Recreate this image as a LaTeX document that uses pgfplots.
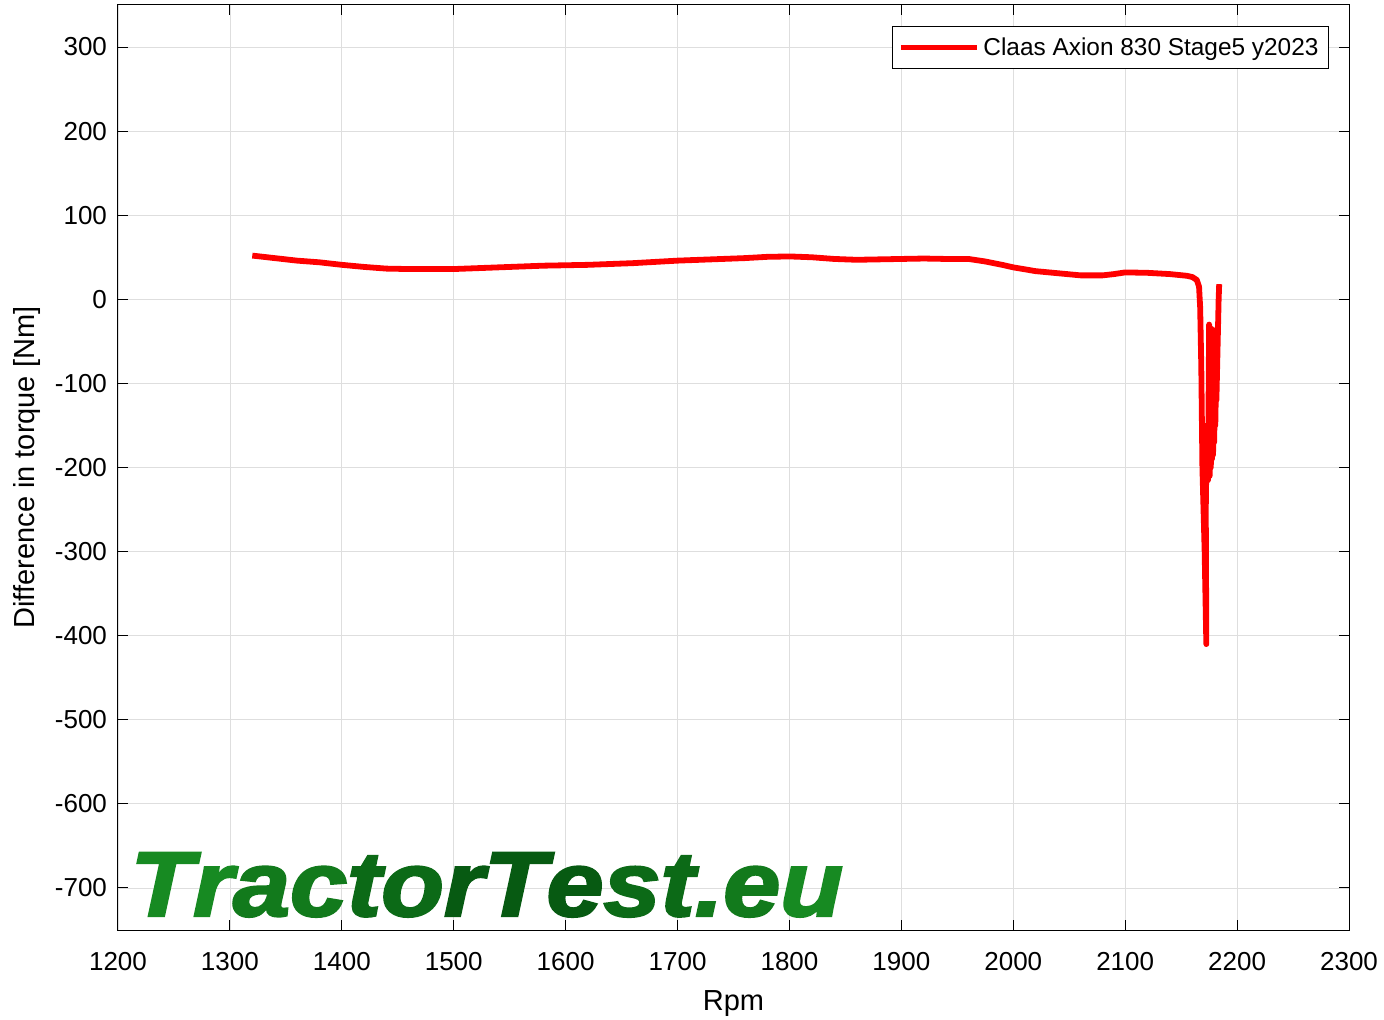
\documentclass[border=0pt]{standalone}
\usepackage{pgfplots}
\pgfplotsset{compat=1.18}
\usepackage{fontspec}
\setmainfont{Liberation Sans}
\newfontfamily\logofont{Liberation Sans Bold Italic}[RawFeature={embolden=2.5}]
\usetikzlibrary{calc}
\definecolor{g1}{HTML}{178A22}
\definecolor{g2}{HTML}{127A1C}
\definecolor{g3}{HTML}{0C6A17}
\definecolor{g4}{HTML}{075A12}
\begin{document}
\begin{tikzpicture}[x=1pt,y=1pt]
\begin{axis}[
  name=ax,
  scale only axis,
  width=615.5pt, height=462.5pt,
  xmin=1200, xmax=2300, ymin=-750, ymax=350,
  xtick={1200,1300,...,2300},
  ytick={-700,-600,...,300},
  /pgf/number format/assume math mode=true,
  /pgf/number format/set thousands separator={},
  tick label style={font=\fontsize{13}{15}\selectfont, /pgf/number format/1000 sep={}},
  xticklabel style={yshift=-7.5pt},
  yticklabel style={xshift=-2pt},
  label style={font=\fontsize{14.5}{16}\selectfont},
  xlabel={Rpm},
  ylabel={Difference in torque [Nm]},
  xlabel style={yshift=-3pt},
  ylabel style={yshift=0.5pt},
  grid=major,
  major grid style={draw=black!13, line width=0.4pt},
  tick align=inside,
  major tick length=5pt,
  tick style={black, line width=0.5pt},
  axis line style={black, line width=0.5pt},
  legend style={at={(rel axis cs:1,1)}, anchor=north east, xshift=-10pt, yshift=-10.75pt,
    font=\fontsize{12.2}{14}\selectfont, draw=black, line width=0.5pt, inner xsep=3pt, inner ysep=3.25pt},
  legend cell align=left,
  legend image code/.code={\draw[#1, line width=2.5pt] (0pt,0pt) -- (38pt,0pt);},
]
\addplot[red, line width=2.9pt, line join=round] coordinates {
(1320,52) (1340,49) (1360,46) (1380,44) (1400,41) (1420,38.5) (1440,36.5) (1460,36) (1480,36)
(1500,36) (1520,37) (1540,38) (1560,39) (1580,40) (1600,40.5) (1620,41) (1640,42) (1660,43)
(1680,44.5) (1700,46) (1720,47) (1740,48) (1760,49) (1780,50.5) (1800,51) (1820,50) (1840,48)
(1860,47) (1880,47.5) (1900,48) (1920,48.5) (1940,48) (1960,48) (1975,45) (1990,41) (2000,38)
(2020,33.5) (2040,31) (2060,28.5) (2080,28.5) (2090,30) (2100,32) (2120,31.5) (2140,30)
(2155,28) (2160,26.5) (2164,23) (2166,15) (2167,-10) (2168,-80) (2169,-200) (2171,-300)
(2172.5,-410) (2172,-250) (2173,-150) (2174,-215) (2175,-30) (2174.5,-200) (2176,-40)
(2175.5,-210) (2177,-35) (2176.5,-200) (2178,-45) (2177.5,-190) (2179,-40) (2178.5,-185)
(2180,-50) (2179.5,-170) (2181,-40) (2180.5,-150) (2182,-35) (2181.5,-120) (2183,-30)
(2183.5,0) (2184,18)
};
\addlegendentry{Claas Axion 830 Stage5 y2023}
\end{axis}
\node[anchor=base west, inner sep=0pt, xscale=1.115, font=\fontsize{46}{50}\selectfont\logofont]
  at ($(ax.south west)+(6pt,7pt)$)
  {\textcolor{g1}{T}\textcolor{g1}{r}\textcolor{g2}{a}\textcolor{g2}{c}\textcolor{g3}{t}\textcolor{g3}{o}\textcolor{g4}{r}\textcolor{g4}{T}\textcolor{g4}{e}\textcolor{g3}{s}\textcolor{g3}{t}\textcolor{g2}{.}\textcolor{g2}{e}\textcolor{g1}{u}};
\pgfresetboundingbox
\path[use as bounding box] ($(ax.south west)+(-59pt,-44.5pt)$) rectangle ($(ax.north east)+(17.5pt,2.5pt)$);
\end{tikzpicture}
\end{document}
